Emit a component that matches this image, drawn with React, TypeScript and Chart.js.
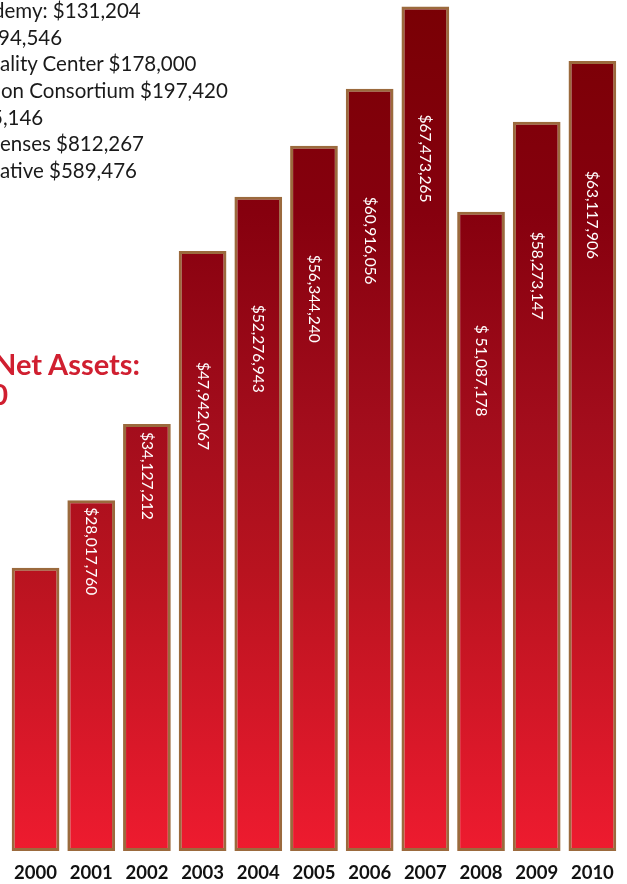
import React, { useEffect, useRef } from 'react';
import { Chart, registerables, Plugin } from 'chart.js';

Chart.register(...registerables);

const years = ['2000', '2001', '2002', '2003', '2004', '2005', '2006', '2007', '2008', '2009', '2010'];
const netAssets = [
  22630000, 28017760, 34127212, 47942067, 52276943, 56344240,
  60916056, 67473265, 51087178, 58273147, 63117906
];
const barLabels = [
  '', '$28,017,760', '$34,127,212', '$47,942,067', '$52,276,943', '$56,344,240',
  '$60,916,056', '$67,473,265', '$ 51,087,178', '$58,273,147', '$63,117,906'
];
const noteLines = [
  'demy: $131,204',
  '94,546',
  'ality Center $178,000',
  'on Consortium $197,420',
  '5,146',
  'enses $812,267',
  'ative $589,476'
];
const titleLines = ['Net Assets:', '2000\u20132010'];

// distance from bar top to where its rotated label starts (px)
const labelOffsets = [0, 7, 8, 111, 108, 109, 108, 108, 113, 110, 110];
// left shift of each note line (first glyph is clipped at the page edge)
const noteShifts = [-7, -2, 0, 1, -9, 0, 0];

const barLabelPlugin: Plugin<'bar'> = {
  id: 'barLabels',
  afterDatasetsDraw(chart) {
    const ctx = chart.ctx;
    const meta = chart.getDatasetMeta(0);
    ctx.save();
    ctx.fillStyle = '#ffffff';
    ctx.font = '15.5px Lato';
    ctx.textAlign = 'left';
    ctx.textBaseline = 'middle';
    meta.data.forEach((bar: any, i) => {
      const text = barLabels[i];
      if (!text) return;
      ctx.save();
      ctx.translate(bar.x, bar.y + labelOffsets[i]);
      ctx.rotate(Math.PI / 2);
      ctx.fillText(text, 0, 0);
      ctx.restore();
    });
    ctx.restore();
  }
};

const App = () => {
  const canvasRef = useRef<HTMLCanvasElement | null>(null);
  const chartRef = useRef<Chart | null>(null);

  useEffect(() => {
    const ctx = canvasRef.current!.getContext('2d');
    if (!ctx) return;
    chartRef.current = new Chart(ctx, {
      type: 'bar',
      data: {
        labels: years,
        datasets: [
          {
            data: netAssets,
            backgroundColor: (c: any) => {
              const area = c.chart.chartArea;
              if (!area) return '#b9141f';
              const g = c.chart.ctx.createLinearGradient(0, area.top, 0, area.bottom);
              g.addColorStop(0, '#790004');
              g.addColorStop(0.25, '#86000e');
              g.addColorStop(0.5, '#a30d1c');
              g.addColorStop(0.67, '#b8131f');
              g.addColorStop(1, '#ee1b2f');
              return g;
            },
            borderColor: '#9b6a3d',
            borderWidth: 3,
            borderSkipped: false,
            categoryPercentage: 1,
            barPercentage: 0.857
          }
        ]
      },
      options: {
        responsive: false,
        animation: false,
        layout: {
          padding: { left: 7.7, right: 3.3, top: 0, bottom: -11.5 }
        },
        plugins: {
          legend: { display: false },
          tooltip: { enabled: false }
        },
        scales: {
          x: {
            grid: { display: false, drawTicks: false },
            border: { display: false },
            ticks: {
              color: '#111111',
              padding: 13,
              font: { family: 'Lato', size: 18.5, weight: 'bold', lineHeight: 1 }
            }
          },
          y: {
            display: false,
            min: 0,
            max: 68000000
          }
        }
      },
      plugins: [barLabelPlugin]
    });

    return () => {
      if (chartRef.current) chartRef.current.destroy();
    };
  }, []);

  return (
    <div
      style={{
        position: 'absolute',
        left: 0,
        top: 0,
        width: '627px',
        height: '884px',
        overflow: 'hidden',
        background: '#ffffff'
      }}
    >
      <canvas ref={canvasRef} width='627' height='884' style={{ display: 'block' }}></canvas>
      {noteLines.map((line, i) => (
        <div
          key={i}
          style={{
            position: 'absolute',
            left: `${noteShifts[i]}px`,
            top: `${-3 + i * 26.67}px`,
            font: '20.5px Lato',
            lineHeight: '26.67px',
            color: '#1a1a1a',
            whiteSpace: 'nowrap'
          }}
        >
          {line}
        </div>
      ))}
      <div
        style={{
          position: 'absolute',
          left: '-6px',
          top: '349px',
          font: 'bold 29px Lato',
          lineHeight: '30px',
          color: '#d01f30',
          whiteSpace: 'nowrap'
        }}
      >
        {titleLines[0]}
      </div>
      <div
        style={{
          position: 'absolute',
          left: '-200px',
          width: '208px',
          top: '379px',
          font: 'bold 29px Lato',
          lineHeight: '30px',
          color: '#d01f30',
          whiteSpace: 'nowrap',
          textAlign: 'right'
        }}
      >
        {titleLines[1]}
      </div>
    </div>
  );
};

export default App;
